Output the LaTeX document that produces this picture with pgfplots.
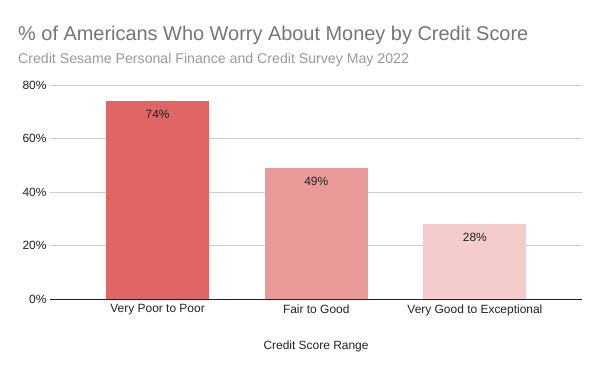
\documentclass[border=0pt]{standalone}
\usepackage{pgfplots}
\pgfplotsset{compat=1.18}
\usepackage{fontspec}
\setmainfont{Liberation Sans}
\definecolor{barA}{HTML}{E06666}
\definecolor{barB}{HTML}{EA9999}
\definecolor{barC}{HTML}{F4CCCC}
\definecolor{titlegray}{HTML}{757575}
\definecolor{subgray}{HTML}{999999}
\definecolor{labgray}{HTML}{222222}
\definecolor{gridgray}{HTML}{CCCCCC}
\begin{document}
\begin{tikzpicture}[x=1bp,y=1bp]
\path (0,0) rectangle (600,371);
\node[anchor=base west, text=titlegray, inner sep=0pt, font=\fontsize{20}{22}\selectfont] at (18,331) {\% of Americans Who Worry About Money by Credit Score};
\node[anchor=base west, text=subgray, inner sep=0pt, font=\fontsize{14.2}{16}\selectfont] at (18,308) {Credit Sesame Personal Finance and Credit Survey May 2022};
\begin{axis}[
  at={(50bp,72bp)}, anchor=south west,
  scale only axis, width=532bp, height=214bp,
  xmin=-0.678, xmax=2.675, ymin=0, ymax=80,
  ybar, bar width=0.65,
  separate axis lines,
  axis x line=bottom, axis y line=left,
  x axis line style={draw=labgray, -},
  y axis line style={draw=none},
  major tick length=0pt,
  xtick={0,1,2},
  xticklabels={Very Poor to Poor, Fair to Good, Very Good to Exceptional},
  ytick={0,20,40,60,80},
  yticklabel={\pgfmathprintnumber{\tick}\%},
  /pgf/number format/assume math mode=true,
  ymajorgrids, grid style={gridgray, line width=0.8pt},
  tick label style={font=\fontsize{12}{14}\selectfont, text=labgray},
  xticklabel style={yshift=-2bp},
  xlabel={Credit Score Range},
  xlabel style={at={(axis description cs:0.5,-0.22)}, anchor=center, font=\fontsize{12}{14}\selectfont, text=labgray},
  nodes near coords={\pgfmathprintnumber{\pgfplotspointmeta}\%},
  every node near coord/.append style={anchor=north, yshift=-6bp, font=\fontsize{12}{14}\selectfont, text=labgray},
]
\addplot[bar shift=0pt, fill=barA, draw=none] coordinates {(0,74)};
\addplot[bar shift=0pt, fill=barB, draw=none] coordinates {(1,49)};
\addplot[bar shift=0pt, fill=barC, draw=none] coordinates {(2,28)};
\end{axis}
\end{tikzpicture}
\end{document}
